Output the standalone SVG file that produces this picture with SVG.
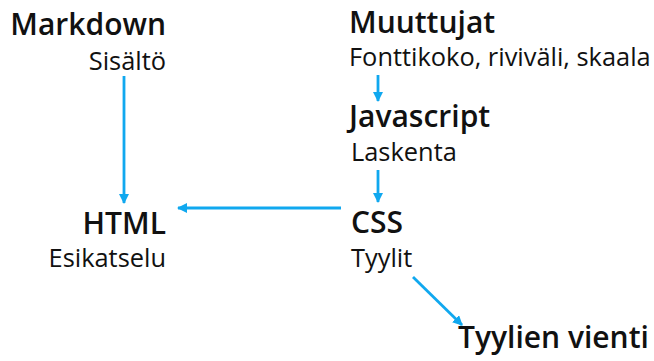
<svg xmlns="http://www.w3.org/2000/svg" width="654" height="361" viewBox="0 0 654 361">
<style>
.t{font-family:"Open Sans","Noto Sans",sans-serif;font-weight:600;font-size:30px;fill:#111}
.s{font-family:"Open Sans","Noto Sans",sans-serif;font-weight:400;font-size:25.4px;fill:#111}
.c{stroke:#10a8ef;stroke-width:2.8;fill:none;marker-end:url(#a)}
</style>
<defs>
<marker id="a" markerWidth="10" markerHeight="10" viewBox="0 0 10 10" refX="9" refY="5" orient="auto" markerUnits="userSpaceOnUse">
<path d="M0,0L10,5L0,10z" fill="#10a8ef"/>
</marker>
</defs>
<rect width="654" height="361" fill="#fff"/>
<g id="connectors">
<line class="c" x1="124" y1="76" x2="124" y2="203"/>
<line class="c" x1="378" y1="75" x2="378" y2="101"/>
<line class="c" x1="378" y1="170" x2="378" y2="202"/>
<line class="c" x1="341" y1="208" x2="178" y2="208"/>
<line class="c" x1="413" y1="277" x2="462" y2="325"/>
</g>
<g id="markdown"><text class="t" x="166" y="35" text-anchor="end">Markdown</text><text class="s" x="166" y="70" text-anchor="end">Sisältö</text></g>
<g id="muuttujat"><text class="t" x="349" y="33">Muuttujat</text><text class="s" x="349" y="66">Fonttikoko, riviväli, skaala</text></g>
<g id="javascript"><text class="t" x="349" y="127">Javascript</text><text class="s" x="351" y="161">Laskenta</text></g>
<g id="html"><text class="t" x="166" y="234" text-anchor="end">HTML</text><text class="s" x="166" y="267" text-anchor="end">Esikatselu</text></g>
<g id="css"><text class="t" x="351" y="233">CSS</text><text class="s" x="351" y="267">Tyylit</text></g>
<g id="vienti"><text class="t" x="458" y="348">Tyylien vienti</text></g>
</svg>
